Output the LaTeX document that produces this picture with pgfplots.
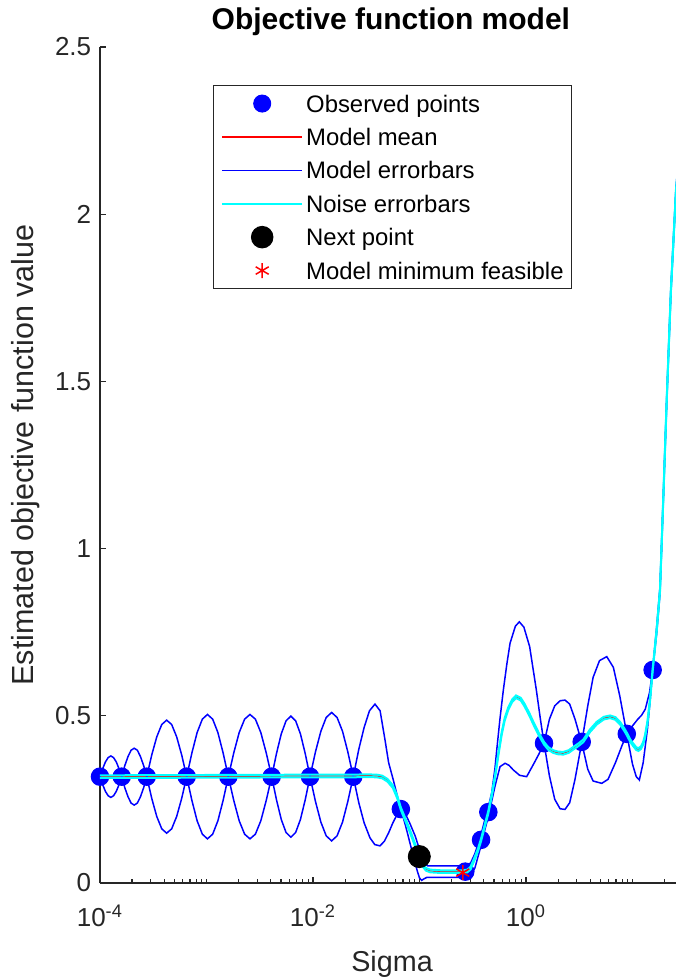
\documentclass[border=0pt]{standalone}
\usepackage{fontspec}
\setmainfont{Liberation Sans}
\usepackage{pgfplots}
\pgfplotsset{compat=1.18}
\usepackage{pgfplotstable}
\definecolor{axgray}{rgb}{0.15,0.15,0.15}
\definecolor{mblue}{rgb}{0,0,1}
\definecolor{mred}{rgb}{1,0,0}
\definecolor{mcyan}{rgb}{0,1,1}
\pgfplotsset{markleg/.style={legend image code/.code={\draw[mark repeat=2,mark phase=2,##1] plot coordinates {(0pt,0pt) (16pt,0pt) (32pt,0pt)};}}}

\pgfplotstableread{
lx y
-4.000 0.318
-3.796 0.318
-3.561 0.318
-3.186 0.318
-2.795 0.318
-2.388 0.318
-2.028 0.318
-1.622 0.318
-1.175 0.221
-0.570 0.034
-0.422 0.129
-0.354 0.212
0.169 0.418
0.523 0.422
0.946 0.446
1.189 0.637
1.420 2.100
}\obstab

\pgfplotstableread{
lx y
-4.000 0.318
-3.0 0.319
-2.0 0.320
-1.622 0.320
-1.50 0.321
-1.40 0.320
-1.35 0.317
-1.30 0.307
-1.25 0.288
-1.21 0.258
-1.175 0.222
-1.13 0.187
-1.09 0.155
-1.04 0.112
-1.00 0.077
-0.97 0.053
-0.94 0.041
-0.90 0.036
-0.80 0.034
-0.60 0.034
-0.55 0.036
-0.52 0.045
-0.48 0.075
-0.45 0.100
-0.422 0.129
-0.39 0.168
-0.354 0.212
-0.322 0.262
-0.291 0.318
-0.26 0.385
-0.228 0.448
-0.20 0.490
-0.166 0.522
-0.13 0.545
-0.094 0.557
-0.05 0.550
-0.014 0.532
0.03 0.505
0.069 0.478
0.12 0.445
0.169 0.418
0.21 0.402
0.256 0.393
0.30 0.389
0.350 0.388
0.40 0.393
0.444 0.403
0.49 0.413
0.538 0.425
0.60 0.455
0.664 0.478
0.73 0.493
0.789 0.497
0.84 0.492
0.883 0.478
0.92 0.460
0.946 0.446
0.98 0.425
1.007 0.413
1.035 0.402
1.055 0.399
1.08 0.405
1.10 0.418
1.117 0.438
1.14 0.48
1.164 0.547
1.189 0.637
1.227 0.757
1.258 0.876
1.29 1.16
1.321 1.444
1.36 1.77
1.408 2.07
1.44 2.18
}\meantab

\pgfplotstableread{
lx y
-4.000 0.318
-3.9745 0.342
-3.949 0.362
-3.9235 0.375
-3.898 0.380
-3.8725 0.375
-3.847 0.362
-3.8215 0.342
-3.796 0.318
-3.767 0.351
-3.737 0.378
-3.708 0.397
-3.679 0.403
-3.649 0.397
-3.620 0.378
-3.590 0.351
-3.561 0.318
-3.514 0.383
-3.467 0.437
-3.420 0.474
-3.374 0.487
-3.327 0.474
-3.280 0.437
-3.233 0.383
-3.186 0.318
-3.137 0.389
-3.088 0.450
-3.039 0.490
-2.991 0.504
-2.942 0.490
-2.893 0.450
-2.844 0.389
-2.795 0.318
-2.744 0.389
-2.693 0.450
-2.642 0.490
-2.592 0.504
-2.541 0.490
-2.490 0.450
-2.439 0.389
-2.388 0.318
-2.343 0.387
-2.298 0.446
-2.253 0.485
-2.208 0.499
-2.163 0.485
-2.118 0.446
-2.073 0.387
-2.028 0.318
-1.977 0.392
-1.926 0.454
-1.876 0.495
-1.825 0.510
-1.774 0.495
-1.723 0.454
-1.673 0.392
-1.622 0.318
-1.57 0.40
-1.52 0.465
-1.47 0.515
-1.418 0.535
-1.37 0.515
-1.324 0.428
-1.29 0.36
-1.246 0.308
-1.21 0.262
-1.175 0.222
-1.13 0.205
-1.09 0.178
-1.04 0.14
-1.00 0.10
-0.97 0.07
-0.95 0.057
-0.92 0.051
-0.60 0.051
-0.56 0.052
-0.52 0.060
-0.48 0.088
-0.422 0.145
-0.39 0.185
-0.354 0.228
-0.322 0.27
-0.291 0.345
-0.275 0.398
-0.245 0.49
-0.213 0.577
-0.18 0.655
-0.150 0.717
-0.10 0.768
-0.063 0.781
-0.02 0.765
0.034 0.707
0.097 0.577
0.135 0.49
0.169 0.418
0.22 0.32
0.27 0.25
0.32 0.222
0.366 0.220
0.41 0.24
0.46 0.31
0.523 0.42
0.58 0.53
0.63 0.615
0.69 0.665
0.758 0.677
0.82 0.645
0.88 0.56
0.946 0.446
1.00 0.355
1.035 0.318
1.064 0.308
1.10 0.36
1.14 0.46
1.165 0.545
1.189 0.637
1.227 0.767
1.258 0.886
1.29 1.17
1.321 1.454
1.36 1.78
1.408 2.08
1.44 2.19
}\uptab

\pgfplotstableread{
lx y
-4.000 0.318
-3.9745 0.294
-3.949 0.274
-3.9235 0.261
-3.898 0.256
-3.8725 0.261
-3.847 0.274
-3.8215 0.294
-3.796 0.318
-3.767 0.285
-3.737 0.258
-3.708 0.239
-3.679 0.233
-3.649 0.239
-3.620 0.258
-3.590 0.285
-3.561 0.318
-3.514 0.253
-3.467 0.199
-3.420 0.162
-3.374 0.149
-3.327 0.162
-3.280 0.199
-3.233 0.253
-3.186 0.318
-3.137 0.247
-3.088 0.186
-3.039 0.146
-2.991 0.132
-2.942 0.146
-2.893 0.186
-2.844 0.247
-2.795 0.318
-2.744 0.247
-2.693 0.186
-2.642 0.146
-2.592 0.132
-2.541 0.146
-2.490 0.186
-2.439 0.247
-2.388 0.318
-2.343 0.249
-2.298 0.190
-2.253 0.151
-2.208 0.137
-2.163 0.151
-2.118 0.190
-2.073 0.249
-2.028 0.318
-1.977 0.244
-1.926 0.182
-1.876 0.141
-1.825 0.126
-1.774 0.141
-1.723 0.182
-1.673 0.244
-1.622 0.318
-1.57 0.24
-1.52 0.18
-1.465 0.135
-1.42 0.115
-1.371 0.111
-1.33 0.125
-1.29 0.15
-1.25 0.18
-1.21 0.205
-1.175 0.221
-1.13 0.17
-1.09 0.12
-1.05 0.07
-1.02 0.035
-1.00 0.015
-0.98 0.008
-0.96 0.012
-0.93 0.017
-0.56 0.017
-0.52 0.022
-0.48 0.045
-0.422 0.112
-0.39 0.155
-0.354 0.198
-0.322 0.245
-0.291 0.29
-0.244 0.348
-0.197 0.358
-0.16 0.352
-0.119 0.338
-0.06 0.322
0.006 0.318
0.075 0.358
0.12 0.385
0.169 0.418
0.22 0.49
0.27 0.53
0.32 0.545
0.366 0.547
0.41 0.535
0.46 0.49
0.523 0.42
0.58 0.34
0.63 0.305
0.711 0.298
0.77 0.31
0.84 0.36
0.90 0.41
0.946 0.446
1.00 0.47
1.05 0.49
1.086 0.502
1.12 0.52
1.16 0.57
1.189 0.637
1.227 0.747
1.258 0.866
1.29 1.15
1.321 1.434
1.36 1.76
1.408 2.06
1.44 2.17
}\lowtab

\pgfplotstableread{
lx y
-1.002 0.079
}\nexttab

\pgfplotstableread{
lx y
-0.594 0.031
}\mintab

\begin{document}
\begin{tikzpicture}
\useasboundingbox (0,0) rectangle (270.4pt,392pt);
\begin{axis}[
  at={(40pt,38.8pt)}, anchor=south west,
  scale only axis, width=230.4pt, height=334.4pt,
  xmode=log, xmin=1e-4, xmax=25.586, ymin=0, ymax=2.5,
  axis lines=left,
  axis line style={-, axgray, line width=0.5pt},
  tick align=inside,
  every tick/.style={axgray, line width=0.45pt},
  major tick length=2.6pt, minor tick length=1.5pt,
  xtick={1e-4,1e-2,1},
  xticklabels={10\textsuperscript{-4},10\textsuperscript{-2},10\textsuperscript{0}},
  minor xtick={2e-4,3e-4,4e-4,5e-4,6e-4,7e-4,8e-4,9e-4,1e-3,2e-3,3e-3,4e-3,5e-3,6e-3,7e-3,8e-3,9e-3,2e-2,3e-2,4e-2,5e-2,6e-2,7e-2,8e-2,9e-2,0.1,0.2,0.3,0.4,0.5,0.6,0.7,0.8,0.9,2,3,4,5,6,7,8,9,10,20},
  ytick={0,0.5,1,1.5,2,2.5},
  yticklabels={0,0.5,1,1.5,2,2.5},
  tick label style={font=\fontsize{10.4}{12}\selectfont, text=axgray},
  xticklabel style={yshift=-5.2pt},
  clip mode=individual,
  every axis title shift=0pt,
  title={Objective function model},
  title style={at={(axis description cs:0.505,1.0215)}, anchor=base, font=\fontsize{12}{14}\selectfont\bfseries, text=black},
  xlabel={Sigma},
  xlabel style={at={(axis description cs:0.507,-0.1053)}, anchor=base, font=\fontsize{11.5}{13}\selectfont, text=axgray},
  ylabel={Estimated objective function value},
  ylabel style={at={(axis description cs:-0.1163,0.512)}, anchor=base, font=\fontsize{12.2}{14}\selectfont, text=axgray},
  legend image code/.code={\draw[#1] (0pt,0pt) -- (32pt,0pt);},
  legend cell align=left,
  legend style={at={(axis description cs:0.1957,0.9545)}, anchor=north west,
    draw=axgray, fill=white,
    font=\fontsize{9.55}{11}\selectfont,
    inner xsep=3.2pt, inner ysep=1.9pt, row sep=2.76pt, column sep=1.2pt,
    nodes={inner sep=0pt, text height=8.7pt, text depth=1.9pt}},
]
\addlegendimage{only marks, mark=*, mblue, mark size=3.4pt, markleg}
\addlegendentry{Observed points}
\addlegendimage{draw=mred, line width=0.5pt}
\addlegendentry{Model mean}
\addlegendimage{draw=mblue, line width=0.6pt}
\addlegendentry{Model errorbars}
\addlegendimage{draw=mcyan, line width=0.8pt}
\addlegendentry{Noise errorbars}
\addlegendimage{only marks, mark=*, black, mark size=4.3pt, markleg}
\addlegendentry{Next point}
\addlegendimage{only marks, mark=asterisk, mred, mark size=3pt, line width=0.6pt, markleg}
\addlegendentry{Model minimum feasible}

\addplot[forget plot, only marks, mark=*, mblue, mark size=3.5pt] table[x expr={10^(\thisrow{lx})}, y=y] {\obstab};
\addplot[forget plot, mred, line width=0.5pt] table[x expr={10^(\thisrow{lx})}, y=y] {\meantab};
\addplot[forget plot, mblue, line width=0.6pt] table[x expr={10^(\thisrow{lx})}, y=y] {\uptab};
\addplot[forget plot, mblue, line width=0.6pt] table[x expr={10^(\thisrow{lx})}, y=y] {\lowtab};
\addplot[forget plot, mcyan, line width=0.8pt] table[x expr={10^(\thisrow{lx})}, y expr={\thisrow{y}+0.004}] {\meantab};
\addplot[forget plot, mcyan, line width=0.8pt] table[x expr={10^(\thisrow{lx})}, y expr={\thisrow{y}-0.004}] {\meantab};
\addplot[forget plot, only marks, mark=*, black, mark size=4.4pt] table[x expr={10^(\thisrow{lx})}, y=y] {\nexttab};
\addplot[forget plot, only marks, mark=asterisk, mred, mark size=3pt, line width=0.6pt] table[x expr={10^(\thisrow{lx})}, y=y] {\mintab};
\end{axis}
\end{tikzpicture}
\end{document}
